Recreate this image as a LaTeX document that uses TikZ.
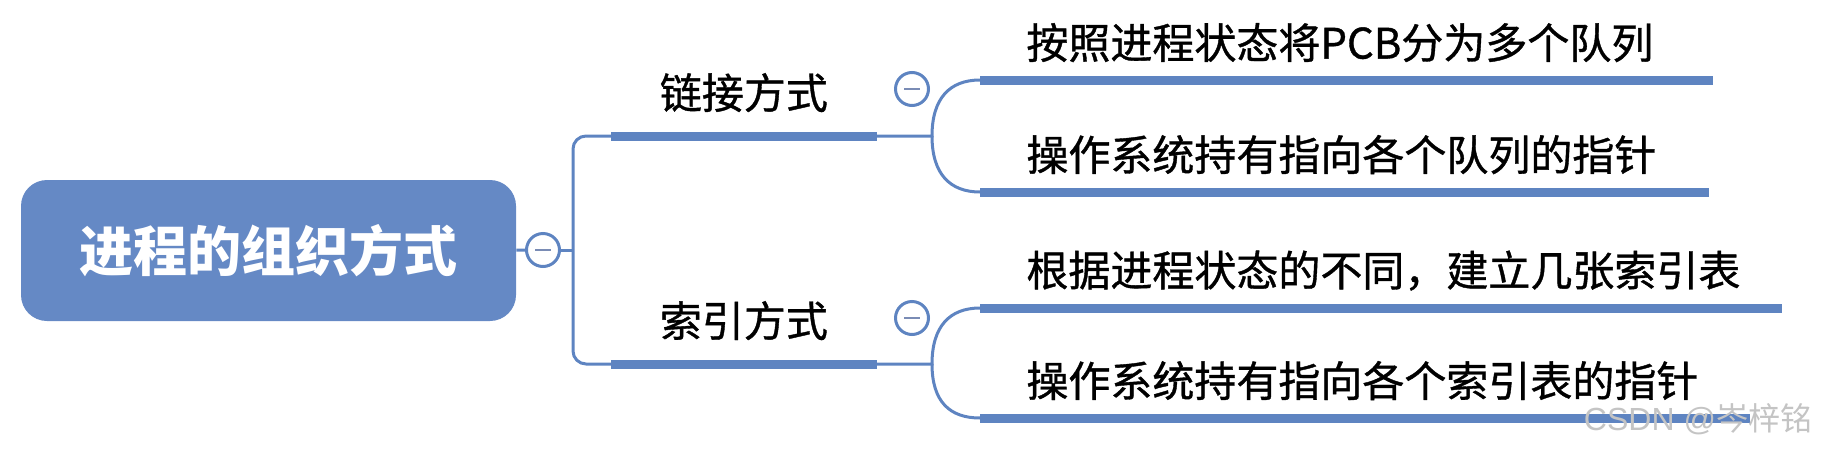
\documentclass[tikz,border=0pt]{standalone}
\usepackage{fontspec}
\setmainfont{Noto Sans CJK SC}
\newfontfamily\medfont{Noto Sans CJK SC}[FakeBold=0.9]
\newfontfamily\markfont{Liberation Sans}
\usepackage{tikz}
\definecolor{mapblue}{HTML}{6589C5}
\definecolor{mapline}{HTML}{5E84C1}
\definecolor{mapminus}{HTML}{7A8CB5}
\definecolor{markgrey}{HTML}{C4C4C4}

\begin{document}
\begin{tikzpicture}[x=0.5pt,y=-0.5pt,
  root/.style={fill=mapblue,rounded corners=13pt,minimum width=247.5pt,minimum height=70.5pt,text=white,font=\fontsize{27}{30}\selectfont\bfseries},
  topic/.style={anchor=south west,inner sep=0pt,minimum width=132.5pt,minimum height=43pt,font=\fontsize{21}{24}\selectfont\medfont},
  leaf/.style={anchor=south west,inner xsep=23pt,inner ysep=0pt,minimum height=37pt,align=left,font=\fontsize{21}{24}\selectfont\medfont},
  btn/.style={circle,draw=mapline,line width=1.5pt,fill=white,minimum size=16.5pt,inner sep=0pt,path picture={\draw[mapminus,line width=1.3pt] ([xshift=-4pt]path picture bounding box.center) -- ([xshift=4pt]path picture bounding box.center);}},
  wire/.style={draw=mapline,line width=1.5pt},
  bar/.style={draw=mapline,line width=4.5pt}
]
\useasboundingbox (0,0) rectangle (1822,451);
\node[root] (root) at (268.5,250.5) {进程的组织方式};
\node[btn] (rootbtn) at (543,250) {};
\coordinate (trunk) at (573,250);
\node[topic] (link) at (611,136) {链接方式};
\node[topic] (index) at (611,364) {索引方式};
\node[btn] (linkbtn) at (912,89) {};
\node[btn] (indexbtn) at (912,318) {};
\coordinate (linkfork) at (932,136);
\coordinate (indexfork) at (932,364);
\node[leaf,text width=320pt] (leafA) at (980,80) {按照进程状态将PCB分为多个队列};
\node[leaf,text width=318pt] (leafB) at (980,192) {操作系统持有指向各个队列的指针};
\node[leaf,text width=354.5pt] (leafC) at (980,308) {根据进程状态的不同，建立几张索引表};
\node[leaf,text width=338.5pt] (leafD) at (980,418) {操作系统持有指向各个索引表的指针};
\foreach \n in {link,index,leafA,leafB,leafC,leafD}
  \draw[bar] (\n.south west) -- (\n.south east);
\draw[wire] (root) -- (rootbtn);
\draw[wire] (rootbtn) -- (trunk);
\draw[wire,rounded corners=6.5pt] (link.south west) -| (trunk) |- (index.south west);
\draw[wire] (link.south east) -- (linkfork) .. controls +(0,-38) and +(-30,0) .. (leafA.south west);
\draw[wire] (linkfork) .. controls +(0,38) and +(-30,0) .. (leafB.south west);
\draw[wire] (index.south east) -- (indexfork) .. controls +(0,-38) and +(-30,0) .. (leafC.south west);
\draw[wire] (indexfork) .. controls +(0,38) and +(-30,0) .. (leafD.south west);
\node[text=markgrey,font=\fontsize{16}{18}\selectfont] (mark) at (1698,419) {{\markfont CSDN @}岑梓铭};
\end{tikzpicture}
\end{document}
